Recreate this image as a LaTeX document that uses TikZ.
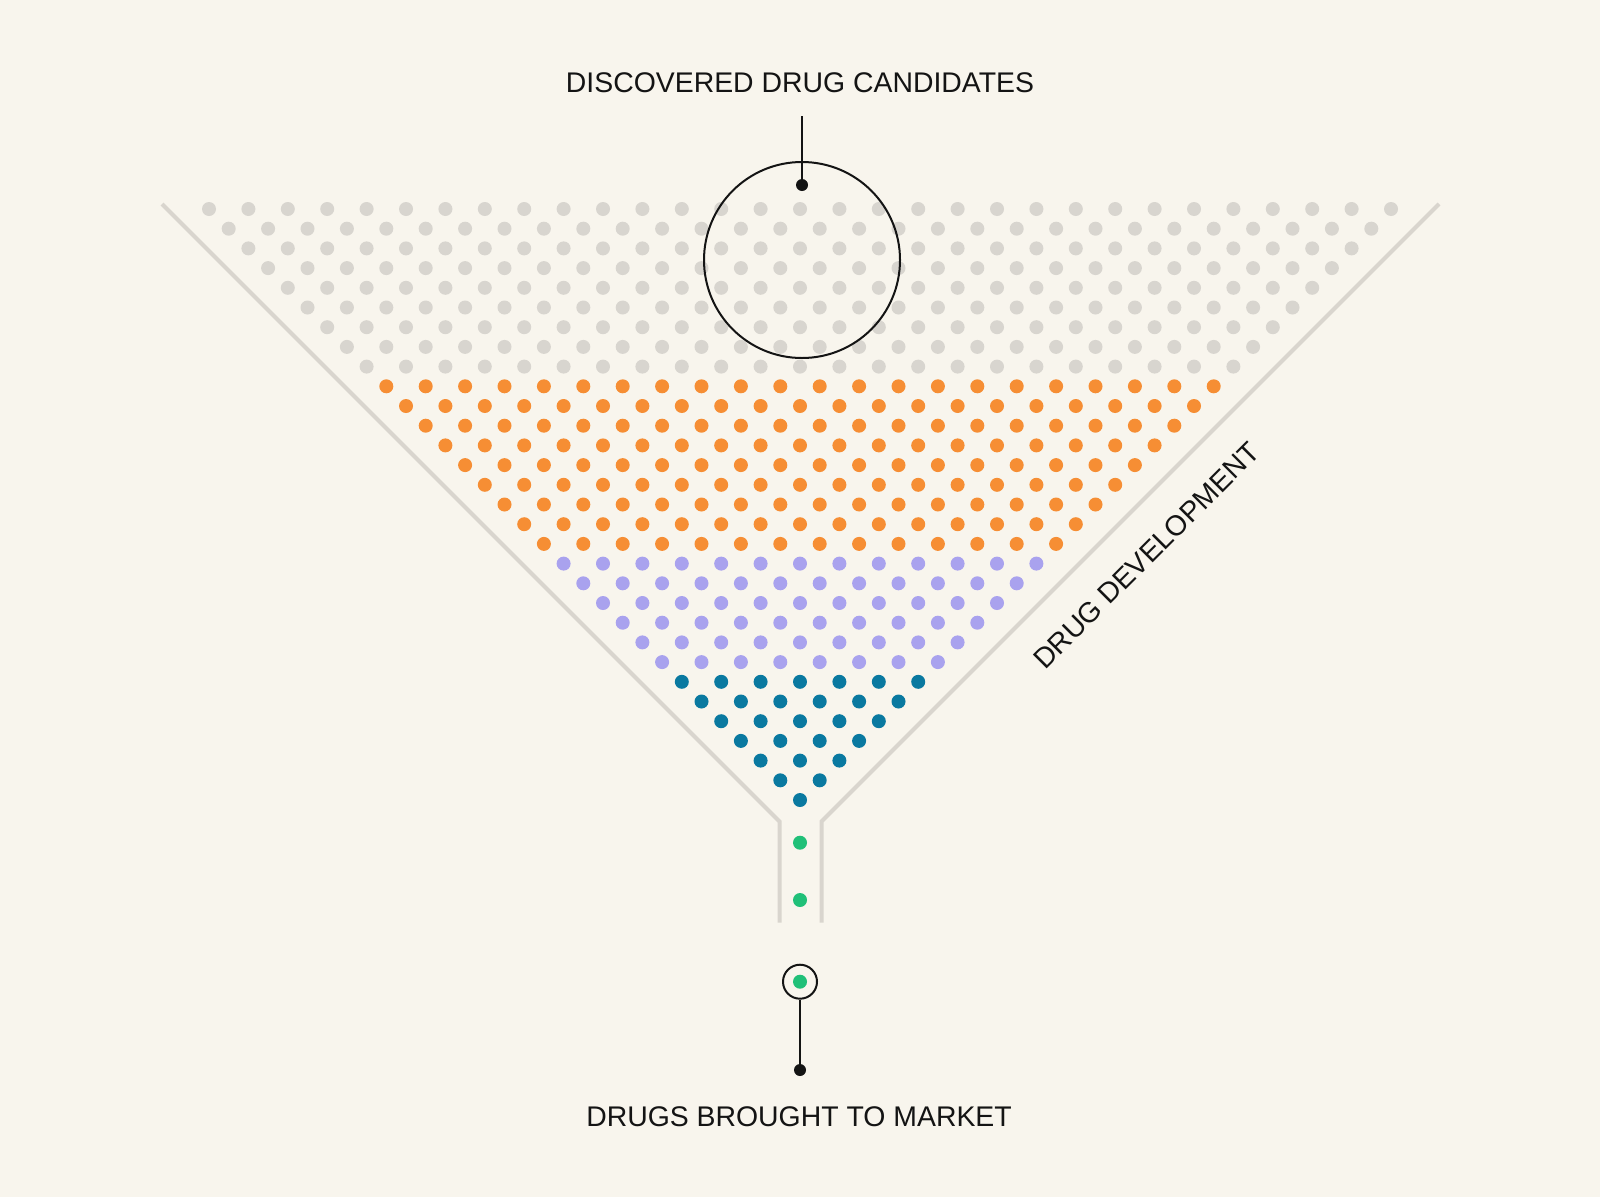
\documentclass[tikz,border=0pt]{standalone}
\usepackage{fontspec}
\setmainfont{Liberation Sans}
\definecolor{bg}{RGB}{248,245,237}
\definecolor{dotgray}{RGB}{216,213,207}
\definecolor{funnelgray}{RGB}{217,213,206}
\definecolor{dotorange}{RGB}{246,142,52}
\definecolor{dotpurple}{RGB}{169,162,238}
\definecolor{dotteal}{RGB}{10,121,160}
\definecolor{dotgreen}{RGB}{32,192,120}
\definecolor{ink}{RGB}{20,20,20}
\begin{document}
\begin{tikzpicture}[x=1pt,y=-1pt,
  caption/.style={font=\fontsize{28.4}{34}\selectfont, text=ink, inner sep=0pt},
  funnelline/.style={draw=funnelgray, line width=4pt},
  blackdot/.style={circle, fill=ink, inner sep=0pt, minimum size=12pt},
  greendot/.style={circle, fill=dotgreen, inner sep=0pt, minimum size=14pt},
  pointer/.style={draw=ink, line width=2pt}]
\fill[bg] (0,0) rectangle (1600,1197);
\useasboundingbox (0,0) rectangle (1600,1197);
% dot lattice
\foreach \k in {0,...,30}{
  \pgfmathtruncatemacro{\nmax}{30-\k}
  \ifnum\k<9 \def\dotcol{dotgray}\else\ifnum\k<18 \def\dotcol{dotorange}\else\ifnum\k<24 \def\dotcol{dotpurple}\else\def\dotcol{dotteal}\fi\fi\fi
  \foreach \j in {0,...,\nmax}{
    \fill[\dotcol] ({209+19.7*\k+39.4*\j},{209+19.7*\k}) circle[radius=7];
  }
}
% funnel
\draw[funnelline] (162,204) -- (779.5,821.5) -- (779.5,922.7);
\draw[funnelline] (1439,204) -- (821.5,821.5) -- (821.5,922.7);
% spout dots
\node[greendot] (g1) at (800,842.7) {};
\node[greendot] (g2) at (800,900) {};
% top annotation
\node[caption, anchor=base] (title) at (800,92.7) {DISCOVERED DRUG CANDIDATES};
\coordinate (titleline) at (802,116);
\node[blackdot] (topdot) at (802,185) {};
\draw[pointer] (titleline) -- (topdot.center);
\node[circle, pointer, inner sep=0pt, minimum size=196pt] (focus) at (802,260) {};
% bottom annotation
\node[greendot] (g3) at (800,981.7) {};
\node[circle, pointer, inner sep=0pt, minimum size=34pt] (ring) at (800,981.7) {};
\node[blackdot] (botdot) at (800,1070) {};
\draw[pointer] (ring.south) -- (botdot.center);
\node[caption, anchor=base] (market) at (799,1126.7) {DRUGS BROUGHT TO MARKET};
% side label
\node[caption, rotate=45] (dev) at (1146.5,555.5) {DRUG DEVELOPMENT};
\end{tikzpicture}
\end{document}
